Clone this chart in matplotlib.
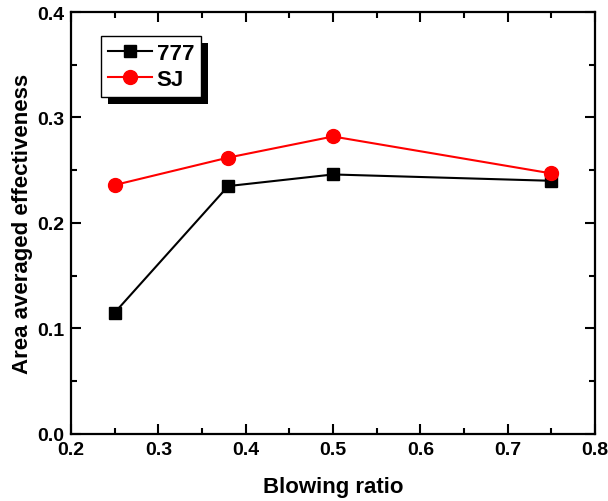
import matplotlib
matplotlib.use("Agg")
import matplotlib.pyplot as plt
import matplotlib.patheffects as pe
from matplotlib.ticker import MultipleLocator, FormatStrFormatter

plt.rcParams['font.family'] = ['Liberation Sans', 'DejaVu Sans']
plt.rcParams['font.weight'] = 'bold'

blowing_ratio = [0.25, 0.38, 0.5, 0.75]
eff_777 = [0.115, 0.235, 0.246, 0.240]
eff_sj = [0.236, 0.262, 0.282, 0.247]

fig = plt.figure(figsize=(6.08, 5.02), dpi=100)
ax = fig.add_axes([0.1168, 0.1335, 0.8618, 0.8406])

ax.plot(blowing_ratio, eff_777, color='black', lw=1.5, marker='s', ms=8.5,
        mec='black', mfc='black', label='777')
ax.plot(blowing_ratio, eff_sj, color='red', lw=1.5, marker='o', ms=10,
        mec='red', mfc='red', label='SJ')

ax.set_xlim(0.2, 0.8)
ax.set_ylim(0.0, 0.4)
ax.xaxis.set_major_locator(MultipleLocator(0.1))
ax.xaxis.set_minor_locator(MultipleLocator(0.05))
ax.yaxis.set_major_locator(MultipleLocator(0.1))
ax.yaxis.set_minor_locator(MultipleLocator(0.05))
ax.xaxis.set_major_formatter(FormatStrFormatter('%.1f'))
ax.yaxis.set_major_formatter(FormatStrFormatter('%.1f'))
ax.tick_params(which='both', direction='in', top=True, right=True, width=1.5,
               labelsize=14)
ax.tick_params(which='major', length=7, pad=5)
ax.tick_params(which='minor', length=4)
for lab in ax.get_xticklabels() + ax.get_yticklabels():
    lab.set_fontweight('bold')
for s in ax.spines.values():
    s.set_linewidth(1.6)

ax.set_xlabel('Blowing ratio', fontsize=16, fontweight='bold', labelpad=13)
ax.set_ylabel('Area averaged effectiveness', fontsize=16, fontweight='bold', labelpad=3)

leg = ax.legend(loc='upper left', bbox_to_anchor=(0.0573, 0.943), borderaxespad=0,
                fancybox=False, framealpha=1, edgecolor='black',
                prop={'size': 16, 'weight': 'bold'}, handlelength=2.0,
                handletextpad=0.2, labelspacing=0.25, borderpad=0.3)
leg.get_frame().set_linewidth(1.0)
leg.get_frame().set_path_effects([
    pe.SimplePatchShadow(offset=(5, -5), shadow_rgbFace='black', alpha=1),
    pe.Normal()])

fig.savefig('out.png', dpi=100)
